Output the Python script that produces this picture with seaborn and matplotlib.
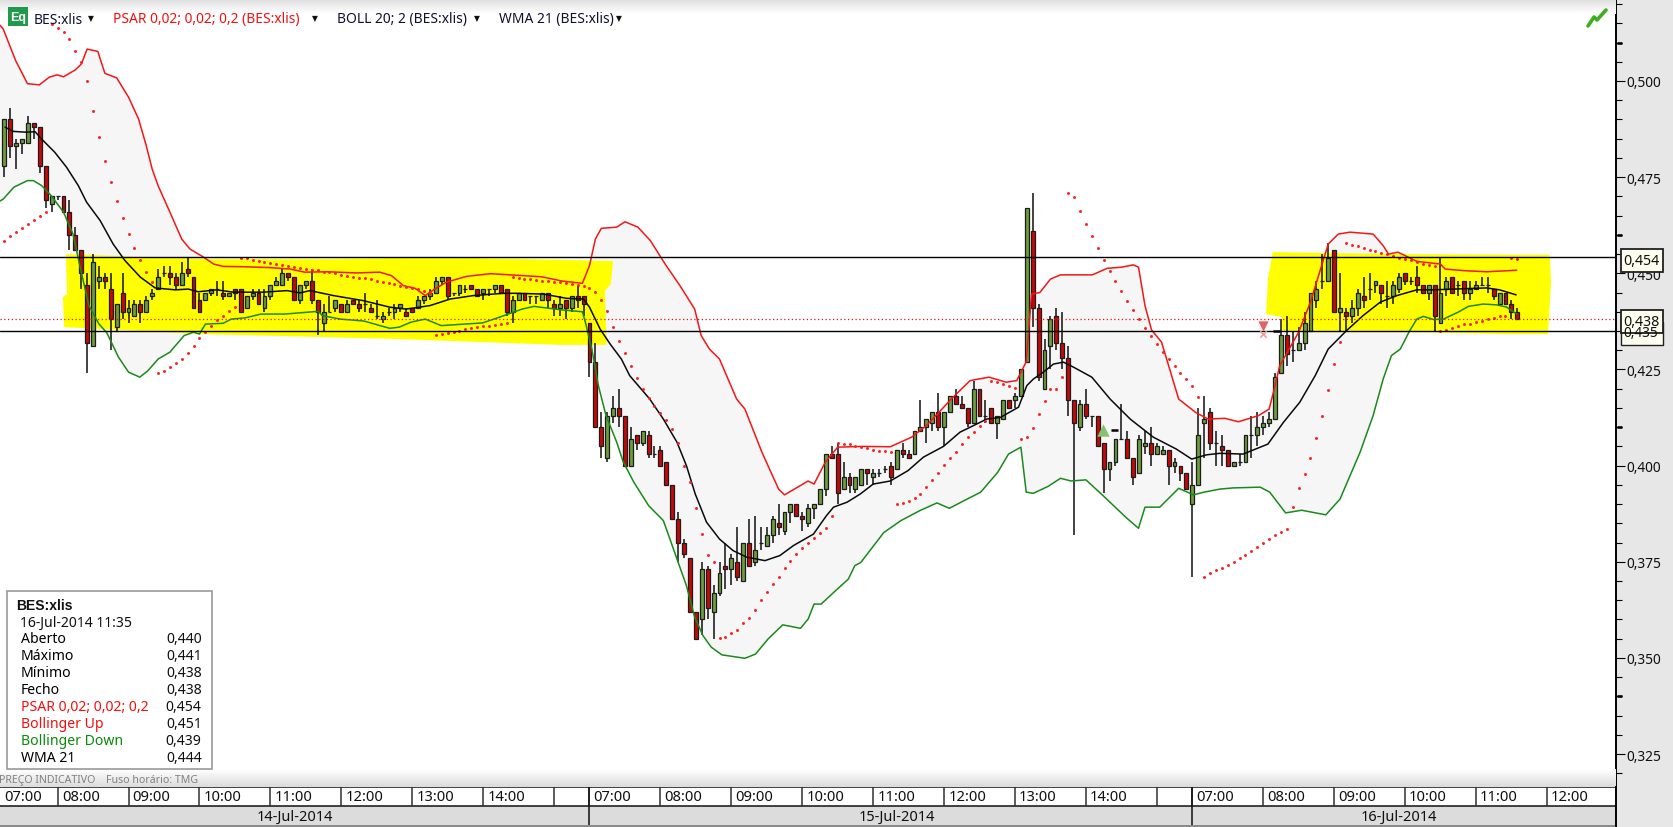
import numpy as np
import pandas as pd
import seaborn as sns
import matplotlib
import matplotlib.pyplot as plt
from matplotlib.patches import Rectangle
from matplotlib.lines import Line2D
from matplotlib.ticker import FuncFormatter

matplotlib.use("Agg")

W, H = 1673, 828

# 5 minute bars, prices in thousandths of a euro, first visible bar is number 3
first_bar = 3
opens = [
    478,490,483,484,484,489,488,478,468,470, 470,466,460,456,447,431,448,449,446,436,
    445,440,439,442,440,444,446,450,450,449, 447,451,449,443,443,445,446,445,444,446,
    446,441,444,445,441,444,447,447,450,449, 443,447,448,443,437,440,441,442,440,443,
    442,442,441,439,438,440,440,441,440,441, 441,443,444,445,448,449,445,445,446,447,
    446,445,446,446,447,446,440,443,445,444, 444,443,445,442,441,443,441,444,444,437,
    427,410,402,413,415,413,400,408,406,408, 403,404,401,395,386,380,376,362,360,373,
    362,367,374,373,375,370,380,375,380,379, 382,385,383,388,390,387,385,389,390,394,
    403,403,394,397,394,395,399,397,398,399, 400,399,404,403,403,409,410,411,414,410,
    414,418,416,415,411,420,413,415,411,412, 417,417,418,427,461,441,420,431,439,432,
    428,417,410,416,413,413,406,399,401,407, 407,402,398,405,406,403,403,404,400,400,
    398,390,395,411,414,406,405,404,400,401, 401,408,408,410,411,412,424,434,430,430,
    432,435,443,448,448,456,440,440,439,441, 444,446,447,447,444,444,446,450,448,449,
    447,445,447,437,446,449,447,448,445,446, 447,447,446,442,445,442,440,
]
highs = [
    490,493,485,485,491,489,488,478,470,470, 470,469,462,456,450,455,452,450,450,442,
    450,443,443,443,444,446,451,452,452,450, 453,454,449,445,445,446,448,448,445,446,
    446,444,446,446,446,447,449,451,450,449, 447,448,451,443,442,444,443,442,443,443,
    443,445,442,443,440,441,442,442,441,441, 444,444,446,449,449,449,445,447,447,447,
    446,446,446,447,447,446,444,445,445,444, 444,445,445,443,444,443,444,447,444,437,
    432,414,414,418,420,413,410,408,409,409, 405,405,401,395,388,381,376,362,375,374,
    369,375,380,377,384,380,386,387,384,384, 387,390,388,390,390,388,390,390,394,403,
    405,406,401,398,397,399,399,399,399,400, 401,404,406,404,409,417,412,414,419,414,
    418,420,418,415,422,420,417,415,413,417, 417,419,425,467,471,442,433,439,441,440,
    431,417,417,420,413,413,406,401,407,416, 409,402,408,409,410,406,405,404,402,400,
    398,401,415,418,415,409,408,404,401,403, 408,413,414,413,414,424,438,439,435,436,
    440,445,448,455,458,456,450,441,443,446, 449,450,448,447,448,448,450,450,449,452,
    447,447,447,454,449,449,448,448,448,448, 449,449,446,445,445,443,441,
]
lows = [
    475,480,477,481,484,485,476,467,466,469, 466,456,456,446,424,431,446,446,430,435,
    438,437,439,437,440,443,446,449,447,446, 447,449,441,440,443,444,444,443,444,443,
    440,441,443,442,440,443,447,447,448,443, 442,446,442,434,435,440,440,440,440,442,
    440,440,440,438,437,439,438,440,439,440, 441,442,443,445,447,443,444,444,445,446,
    444,443,444,445,445,439,437,443,443,442, 442,443,441,439,439,438,440,441,439,423,
    410,402,401,411,410,400,400,404,405,402, 402,400,395,386,375,376,362,355,356,360,
    355,366,368,369,370,370,374,374,378,379, 380,382,382,385,387,383,384,386,390,392,
    402,390,394,393,393,395,395,395,397,398, 395,399,402,402,403,409,406,409,409,405,
    414,416,415,410,411,413,411,411,407,412, 415,415,418,427,436,422,420,425,430,425,
    413,382,409,412,410,405,393,396,400,407, 402,395,398,403,400,403,403,395,398,396,
    394,371,395,402,404,400,400,400,400,400, 401,402,405,408,410,412,424,426,427,430,
    430,435,441,446,448,440,435,435,437,439, 441,443,445,442,441,442,445,447,447,445,
    445,443,435,437,444,445,444,443,443,446, 447,445,443,442,442,438,438,
]
closes = [
    490,483,484,485,489,488,478,469,470,470, 466,460,456,450,432,453,449,448,438,442,
    440,441,442,440,443,445,449,450,449,447, 450,450,441,440,445,446,446,444,445,445,
    440,444,445,442,444,447,448,450,449,443, 447,448,443,440,440,440,443,440,442,442,
    441,442,440,439,439,440,441,442,439,440, 443,444,445,448,449,444,445,447,446,446,
    444,446,446,447,445,440,443,445,443,444, 444,445,443,441,442,441,444,443,442,427,
    410,405,413,415,413,400,407,406,409,403, 403,400,395,386,380,377,362,355,373,363,
    367,372,373,376,371,380,374,378,380,382, 386,384,388,390,387,386,389,390,394,403,
    402,393,397,395,397,399,398,398,398,399, 397,404,403,402,409,410,412,414,410,414,
    418,416,415,411,420,413,413,411,413,417, 415,418,425,467,441,423,430,438,432,428,
    417,411,416,413,413,405,399,401,407,407, 402,397,407,406,403,405,404,400,401,398,
    394,395,408,412,406,406,404,400,401,401, 408,408,410,411,412,423,434,429,430,432,
    437,445,446,448,454,440,441,439,441,445, 443,446,448,445,444,447,449,448,448,447,
    445,447,439,445,448,445,447,445,446,447, 447,447,444,445,442,440,438,
]
psar = [
    458.3,459.8,460.8,461.7,462.8,463.8,464.9,466.0,514.8,513.7,
    512.7,510.9,507.9,504.9,500.1,492.3,485.5,479.1,473.8,468.8,
    464.4,460.2,456.6,453.5,450.4,447.7,424.1,424.7,425.7,426.8,
    427.7,429.3,431.2,433.1,434.7,436.4,437.9,439.0,440.2,441.3,
    454.0,453.9,453.5,453.3,452.9,452.7,452.4,452.2,451.8,451.6,
    451.4,451.1,450.9,450.8,450.4,450.3,450.0,449.6,449.4,449.1,
    448.9,448.7,448.4,448.0,447.7,447.4,447.2,446.8,446.5,446.2,
    445.9,445.5,445.0,434.0,434.2,434.5,434.7,435.1,435.4,435.7,
    436.0,436.2,436.4,436.6,436.8,437.1,449.1,448.8,448.5,448.4,
    448.2,448.0,447.9,447.8,447.7,447.5,447.2,447.0,446.6,446.2,
    445.1,443.1,440.3,436.1,432.4,429.3,426.0,422.8,419.9,417.6,
    415.6,413.7,411.9,409.5,405.9,400.0,395.7,389.0,382.2,376.8,
    375.0,355.2,355.5,356.5,357.3,359.1,360.5,362.5,365.1,367.1,
    369.2,371.0,373.3,375.3,377.0,378.6,379.9,381.2,382.4,383.9,
    387.0,405.9,405.6,405.5,405.2,404.8,404.5,404.1,403.9,403.7,
    403.5,390.0,390.3,390.8,391.5,392.6,394.4,396.3,398.2,400.2,
    402.1,403.6,405.7,407.4,408.8,410.2,411.7,422.0,421.8,421.3,
    420.8,420.1,406.9,407.5,409.8,413.5,416.8,419.9,419.9,423.1,
    470.9,469.9,466.3,462.8,459.8,456.6,453.5,450.6,448.0,445.4,
    442.8,440.5,438.1,435.9,433.7,431.6,429.5,427.7,426.0,424.1,
    422.5,420.6,417.9,371.0,372.1,372.9,373.4,374.2,375.0,376.0,
    376.8,377.8,378.8,379.9,380.9,382.0,382.7,383.5,389.2,394.3,
    397.8,402.0,407.3,412.9,419.7,426.4,432.2,457.9,457.4,457.2,
    456.6,456.1,455.9,455.3,454.9,454.4,454.0,453.7,453.5,453.0,
    452.5,452.2,452.0,435.0,435.3,435.9,436.2,436.7,436.9,437.3,
    437.7,438.1,438.5,438.8,438.9,453.9,453.7,
]

# indicator curves read at their bends: bar number, value
boll_up_x = [2.25,2.8,4.9,6.9,8.9,10.6,11.9,13,15,16,17,18.8,20,22,24,25.7,27,28,29,31,33,34.4,36.7,38.4,40,
             43.7,47.7,51.4,53.8,57.8,62.5,66.5,68.5,70.5,72.5,74.2,75.8,77.8,81.2,85.2,88.6,93.9,97.3,100.8,
             102,103,104,106.6,108,110.2,112.3,114.8,117.3,119.8,120.9,122.3,124,126.9,128.3,131.2,134,135,
             139,140,141.9,144,148.3,152.9,156.5,159,161.1,163.2,166.4,169.6,172.5,174.3,175.9,176.8,178.2,
             180,181.7,187.1,189.6,192.1,194,194.9,196,197.1,198.8,201.7,204.6,206.7,209.5,211.8,215.2,217,
             217.8,218.8,222,224,227,228.7,230.7,234.6,236.3,237.2,238.8,242,246,246.8,249.9,253.8,258.9]
boll_up_y = [514.5,513.5,505.3,499.3,499,501,501.6,501.1,502.9,504.4,508.3,507.7,502,500.8,495.8,490.1,483.2,477.1,
             472.8,465.9,458.9,456.3,454.2,452.4,451.8,451.7,451.5,451.1,450.3,450.4,450.1,450.3,449.4,446.8,
             446.1,444.2,445.9,447.7,449.2,449.9,449.6,449.1,448,447.4,452,458.9,461.7,462,463.4,462,458.5,
             452.4,446.8,440.7,433.8,430.3,427.7,417.3,414.7,403.4,393.9,392.4,396,395.2,400.9,404.8,405,404.9,
             407.4,410.4,413.8,417.3,422.1,423,421.7,422.1,427,444.6,445,448.5,449.6,449.6,451.3,451.6,452.2,
             451.6,441.6,435.3,432.1,417.3,413.8,412.1,412.3,411.4,413,414.7,419.5,426,434.7,442.5,457.6,460.2,
             460.7,460.2,457.2,455,455.5,453.1,452.4,451.1,450.7,450.4,450.8]
boll_dn_x = [2.25,2.8,4.6,6.9,7.9,9.3,10.9,13,14.6,16,17.3,19,20.3,22.3,24,25.9,27.3,29,31,33.4,35,36,37,40,41.4,
             43.7,46.4,50.4,54.4,56.1,56.8,59.8,63.8,68.2,69.8,71.8,74.2,76.9,83.9,86.6,90.6,92.6,97.3,100.8,
             101.3,102.4,103.5,104.8,106.6,107.7,109.5,112,114.5,116.9,118.4,119.8,121.2,122.6,124.4,128.3,130.1,
             132.2,134.7,137.7,139,140,141.2,143.3,145.8,146.9,147.9,151.8,154.7,157.9,160.8,162.9,165.4,168.2,
             171.1,172.9,175,175.9,177.1,179.6,181.7,183.5,186,188.9,192.8,194.9,196,198.5,201.7,204.2,206,208.7,
             210.9,215.5,217.1,218,219.8,222.5,226.6,229,232.4,234.6,236.3,237.7,239.2,240.8,242,243.1,244.8,246.5,
             249,250.7,253.2,255.5,257.2,258.9]
boll_dn_y = [468.8,469.3,472.4,474.1,474.1,472.8,470.2,465.9,460.2,450.3,441.6,436.8,434.6,428.2,424.3,423,424.7,
             427.7,429.5,433.8,434.7,434.2,436.8,437,438.1,438.4,439.4,439.4,439.9,440.1,439,438.1,437.6,435.7,436,
             437.3,438.1,436.4,437.1,438.5,440.7,441.4,440.5,440,437.3,430.3,420.8,413,406.1,401,395.7,389.6,385.7,
             375.3,368.8,360.6,355.8,352.8,350.8,349.9,351,354.9,358.6,357.7,360.1,364,364,367,370.5,374,374.8,382.6,
             385.7,388.3,390.3,388.9,390.9,393.1,398.3,403,404.8,393.1,392.8,394.6,396.7,396,396.3,392.2,386.5,383.7,
             389.2,389.2,394.1,392.4,393.1,393.9,394.2,394.4,393.1,391.3,387.7,388.4,387.2,391.3,403.5,413,422.5,
             428.6,430.3,435.1,438.1,438.8,438,438.1,439.9,441.4,442,441.8,441.2,439.4]
wma_x = [3.1,4.5,6.5,8.2,9.3,11.5,13.5,15.5,16.9,19.2,21.4,23.4,26,28.5,31.9,34.1,35.8,38.9,41.7,46.8,50.8,53,54.7,
         58.7,63.7,68.2,71,75,78.4,82.3,87.4,89.7,94.2,98.1,101,102,103.8,105.5,107.4,108.8,112.2,114.5,116.8,118.4,
         119.9,121.8,124,126.3,128.6,131.7,134.2,136.5,139.9,142.1,143.3,145.6,147.8,150,152.9,155.9,158.5,161.9,
         164.7,167.5,169.2,171.5,174.6,176,177.1,178.8,180.5,182.2,183.9,187,190.1,193.5,197.4,201.3,203.9,206.4,
         208.7,212.6,216.8,219.4,222.2,224.8,227,230.1,232.9,235.8,238.6,242,244.8,248.2,253.8,256,258.8]
wma_y = [488,486.9,486.7,486.8,484.9,481.5,477.6,472.8,468.5,463.7,457.6,453.3,449,446.2,445.7,445.9,445.2,445.7,
         445.1,445.1,445.5,444.9,445.5,444.2,442.9,441.2,440.7,441.6,443.3,444.2,444.8,444.8,444.6,443.5,443.3,441.2,
         435.5,431.6,427.7,423.4,417.3,412.1,406.1,400,392.6,385.3,380.9,377.9,376.2,375.3,376.6,379.2,382.2,387,
         389.2,390.5,392.6,395.2,396,398.7,402.2,405,408.7,410.8,412.1,412.5,415.2,420.8,422.5,424.3,426.4,426.9,
         425.6,423,417.3,412.1,407.4,404.3,401.7,402.8,403.2,403,405.6,411.2,416.5,423.4,430.3,435.1,439,442.5,444.2,
         445.7,445.7,445.9,446.2,445.7,444.4]

# hand painted yellow highlights, bar number and price
mark1_x = [13.4,36.9,57.8,75.9,106,105.6,104.6,104.9,97,69.9,36.9,13.1,12.9,13.6]
mark1_y = [455,453.7,453.7,454.2,453.2,447.2,445.4,431.4,431.4,432.9,434.2,436,443.8,444.6]
mark2_x = [217.6,239.1,264.5,264.7,264.2,257.2,243,229.5,219.2,219.2,216.5,216.8]
mark2_y = [455.5,455,454.8,447.7,434.2,434.2,434.7,435,435,438.6,439.4,448.5]

level_lines = [454.2, 434.9]
last_price = 438.1

major_ticks = [325, 350, 375, 400, 425, 450, 475, 500]
bold_ticks = [340, 410, 460, 510]

hour_bars = [0, 12, 24, 36, 48, 60, 72, 84, 96,
             102, 114, 126, 138, 150, 162, 174, 186, 198,
             204, 216, 228, 240, 252, 264]
hour_labels = ["07:00", "08:00", "09:00", "10:00", "11:00", "12:00", "13:00", "14:00", "",
               "07:00", "08:00", "09:00", "10:00", "11:00", "12:00", "13:00", "14:00", "",
               "07:00", "08:00", "09:00", "10:00", "11:00", "12:00"]
day_bars = [102, 204]
day_centres = [52.2, 154, 239]
day_labels = ["14-Jul-2014", "15-Jul-2014", "16-Jul-2014"]

info_names = ["Aberto", "Máximo", "Mínimo", "Fecho", "PSAR 0,02; 0,02; 0,2", "Bollinger Up", "Bollinger Down", "WMA 21"]
info_values = ["0,440", "0,441", "0,438", "0,438", "0,454", "0,451", "0,439", "0,444"]
info_colors = ["black", "black", "black", "black", "#f01010", "#f01010", "#0a8a0a", "black"]

headers = ["BES:xlis", "PSAR 0,02; 0,02; 0,2 (BES:xlis)", "BOLL 20; 2 (BES:xlis)", "WMA 21 (BES:xlis)"]
header_x = [34, 113, 337, 499]
header_arrow_x = [91, 314.5, 477, 619]
header_colors = ["#101030", "#f01010", "#101030", "#101030"]

sns.set_theme(style="white")
plt.rcParams["font.family"] = ["Noto Sans", "DejaVu Sans"]
plt.rcParams["font.size"] = 9.4

df = pd.DataFrame({"open": opens, "high": highs, "low": lows, "close": closes}) / 1000
df["bar"] = np.arange(first_bar, first_bar + len(df))
df["up"] = df["close"] >= df["open"]

fig = plt.figure(figsize=(W / 100, H / 100), dpi=100, facecolor="white")


def fx(px):
    return px / W


def fy(py):
    return 1 - py / H


def px_axes(x0, y0, x1, y1, **kw):
    return fig.add_axes([fx(x0), fy(y1), (x1 - x0) / W, (y1 - y0) / H], **kw)


def box(x0, y0, x1, y1, face, edge="none", lw=0, z=10):
    fig.add_artist(Rectangle((fx(x0), fy(y1)), (x1 - x0) / W, (y1 - y0) / H, transform=fig.transFigure,
                             facecolor=face, edgecolor=edge, linewidth=lw, zorder=z))


def label(px, py, s, z=11, **kw):
    kw.setdefault("va", "center")
    fig.text(fx(px), fy(py), s, zorder=z, **kw)


# right hand price panel behind everything
box(1616, 0, W, H, "#e6e7e6", z=-1)

ax = px_axes(0, 0, 1616, 788)
ax.set_facecolor("white")
ax.set_xlim(2.25, 275.7)
ax.set_ylim(0.31644, 0.52132)

# band fill, highlights, then the candles on top
ax.fill(boll_up_x + boll_dn_x[::-1], np.array(boll_up_y + boll_dn_y[::-1]) / 1000, color="#f6f6f7", lw=0, zorder=1)
ax.fill(mark1_x, np.array(mark1_y) / 1000, color="#ffff00", lw=0, zorder=2)
ax.fill(mark2_x, np.array(mark2_y) / 1000, color="#ffff00", lw=0, zorder=2)

ax.vlines(df["bar"], df["low"], df["high"], color="#222222", lw=1.2, zorder=3)
green = df[df["up"]]
red = df[~df["up"]]
ax.bar(green["bar"], green["close"] - green["open"], bottom=green["open"], width=0.66,
       color="#6c9e3e", edgecolor="#1c1c1c", linewidth=0.9, zorder=4)
ax.bar(red["bar"], red["open"] - red["close"], bottom=red["close"], width=0.66,
       color="#c80808", edgecolor="#1c1c1c", linewidth=0.9, zorder=4)

sns.lineplot(x=boll_up_x, y=np.array(boll_up_y) / 1000, color="#f01818", lw=1.1, estimator=None, sort=False, ax=ax, zorder=5)
sns.lineplot(x=boll_dn_x, y=np.array(boll_dn_y) / 1000, color="#1a8a1a", lw=1.1, estimator=None, sort=False, ax=ax, zorder=5)
sns.lineplot(x=wma_x, y=np.array(wma_y) / 1000, color="#0a0a0a", lw=1.1, estimator=None, sort=False, ax=ax, zorder=5)
sns.scatterplot(x=df["bar"], y=np.array(psar) / 1000, color="#f82020", s=4.5, linewidth=0, ax=ax, zorder=6)

for level in level_lines:
    ax.axhline(level / 1000, color="black", lw=1.0, zorder=7)
ax.axhline(last_price / 1000, color="#f01010", lw=0.9, ls=(0, (1, 2)), zorder=7)

# trade markers
ax.scatter([215.9], [0.4362], marker="v", s=55, color="#e86060", linewidth=0, zorder=8)
ax.scatter([215.9], [0.4342], marker="x", s=22, color="#f0a0a0", linewidth=1.2, zorder=8)
ax.scatter([188.9], [0.4092], marker="^", s=80, color="#86c070", linewidth=0, zorder=8)
ax.hlines(0.4092, 190.3, 191.5, color="black", lw=1.8, zorder=8)
ax.hlines(0.4349, 217.6, 218.9, color="black", lw=1.8, zorder=8)

ax.set_xticks([])
ax.set_xlabel("")
ax.set_ylabel("")
ax.yaxis.tick_right()
ax.set_yticks(np.array(major_ticks) / 1000)
ax.set_yticks(np.arange(320, 525, 5) / 1000, minor=True)
ax.yaxis.set_major_formatter(FuncFormatter(lambda v, _: f"{v:.3f}".replace(".", ",")))
ax.tick_params(axis="y", which="major", right=True, length=6.2, width=0.8, pad=1.6, color="black",
               labelcolor="#101010", labelsize=9.9)
ax.tick_params(axis="y", which="minor", right=True, length=4.3, width=0.8, color="black")
for side in ["top", "left", "bottom"]:
    ax.spines[side].set_visible(False)
ax.spines["right"].set_color("black")
ax.spines["right"].set_linewidth(1.4)
bold_tf = matplotlib.transforms.blended_transform_factory(ax.transAxes, ax.transData)
ax.hlines(np.array(bold_ticks) / 1000, 1.0008, 1.0040, color="black", lw=1.9, transform=bold_tf, clip_on=False, zorder=9)

# soft grey bands at the top and bottom of the plot
top_band = px_axes(0, 0, 1616, 15, zorder=1)
top_band.imshow(np.linspace(0.87, 1, 32)[:, None], cmap="gray", vmin=0, vmax=1, aspect="auto")
top_band.axis("off")
low_band = px_axes(0, 770, 1616, 788, zorder=1)
low_band.imshow(np.linspace(1, 0.86, 32)[:, None], cmap="gray", vmin=0, vmax=1, aspect="auto")
low_band.axis("off")

# hour and date rows
rows = px_axes(0, 788, 1616, H, sharex=ax, zorder=2)
rows.set_ylim(H, 788)
rows.axhspan(788, 807, color="white", lw=0)
rows.axhspan(807, 826, color="#dcdcdc", lw=0)
rows.axhspan(826, H, color="#8a8a8a", lw=0)
rows.hlines([788.5, 807], 2.25, 275.7, color="#101010", lw=1.1)
rows.vlines(hour_bars, 788, 807, color="#303030", lw=1.1)
rows.vlines(day_bars, 788, 826, color="#101010", lw=1.1)
for bar, text in zip(hour_bars, hour_labels):
    rows.text(2.9 if bar == 0 else bar + 0.7, 798, text, va="center", ha="left", fontsize=10.6, color="#101010")
for bar, text in zip(day_centres, day_labels):
    rows.text(bar, 817, text, va="center", ha="center", fontsize=10.5, color="#101010")
rows.set_yticks([])
rows.tick_params(bottom=False, labelbottom=False)
for side in ["top", "left", "bottom"]:
    rows.spines[side].set_visible(False)
rows.spines["right"].set_color("black")
rows.spines["right"].set_linewidth(1.4)

label(-1, 781, "PREÇO INDICATIVO", color="#808080", fontsize=7.6)
label(105.5, 781, "Fuso horário: TMG", color="#808080", fontsize=7.6)

# header line
box(8, 8, 28, 27, "#1f9a4a")
label(18, 18, "Eq", color="white", fontfamily="Liberation Sans", fontweight="bold", fontsize=9, ha="center")
for x, text, color, arrow_x in zip(header_x, headers, header_colors, header_arrow_x):
    label(x, 20, text, color=color, fontsize=9.95)
    label(arrow_x, 20, "▼", color="#101010", fontsize=5.5, ha="center")
fig.add_artist(Line2D([fx(1588), fx(1594), fx(1597), fx(1606)], [fy(27), fy(18), fy(21), fy(11)],
                      color="#3fae20", lw=2.6, zorder=11, transform=fig.transFigure))

# price boxes on the axis
box(1621, 323, 1663, 346, "#fffff0", "#202020", 1.0, z=10)
label(1623, 334, "0,435", color="#101010", fontsize=9.9, z=10)
for top, text in [(250, "0,454"), (311, "0,438")]:
    box(1621, top, 1663, top + 23, "#fffff0", "#202020", 1.3, z=10)
    label(1623, top + 11.5, text, color="#101010", fontsize=10.2)

# info box
box(6.5, 592, 211.5, 770, "white", "#999999", 1.2, z=10)
label(16.6, 606, "BES:xlis", fontfamily="Liberation Sans", fontweight="bold", color="#101010", fontsize=10)
label(20.5, 623, "16-Jul-2014 11:35", color="#101010", fontsize=10.1)
for n, (name, value, color) in enumerate(zip(info_names, info_values, info_colors)):
    label(21, 640 + n * 17, name, color=color, fontsize=10.1)
    label(201.7, 640 + n * 17, value, color="#101010", fontsize=10.1, ha="right")

fig.savefig("out.png", dpi=100)
